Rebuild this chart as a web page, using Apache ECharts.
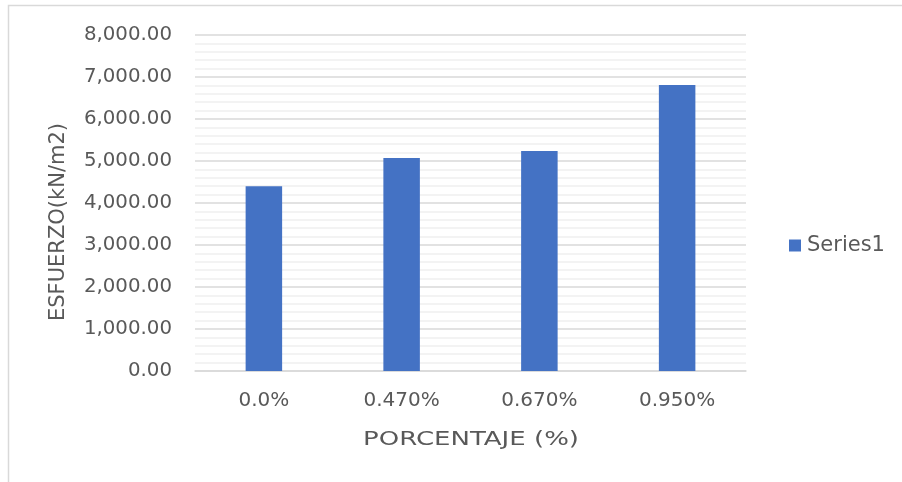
<!DOCTYPE html>
<html>
<head>
<meta charset="utf-8">
<script src="https://cdn.jsdelivr.net/npm/echarts@6/dist/echarts.min.js"></script>
<style>
  html, body { margin: 0; padding: 0; background: #fff; }
  #chart { width: 902px; height: 482px; }
</style>
</head>
<body>
<div id="chart"></div>
<script>
// Compressive stress by additive percentage
const categories = ['0.0%', '0.470%', '0.670%', '0.950%'];
const esfuerzo = [4400, 5070, 5240, 6810];
const seriesName = 'Series1';
const yTitle = 'ESFUERZO(kN/m2)';
const xTitle = 'PORCENTAJE (%)';

const FONT = "'DejaVu Sans', 'Noto Sans', sans-serif";
const TEXT = '#595959';

const chart = echarts.init(document.getElementById('chart'), null, { renderer: 'canvas' });
chart.setOption({
  animation: false,
  backgroundColor: '#ffffff',
  textStyle: { fontFamily: FONT },
  graphic: [
    {
      // chart-area frame (left and top edges visible)
      type: 'rect',
      shape: { x: 8.5, y: 5.5, width: 1000, height: 1000 },
      style: { fill: 'none', stroke: '#d9d9d9', lineWidth: 1.5 },
      silent: true
    },
    {
      type: 'text',
      x: 59, y: 222,
      rotation: Math.PI / 2,
      style: {
        text: yTitle, fill: TEXT, font: "21px 'DejaVu Sans', sans-serif",
        align: 'center', verticalAlign: 'middle'
      },
      silent: true
    },
    {
      type: 'text',
      x: 471, y: 440,
      scaleX: 1.3,
      style: {
        text: xTitle, fill: TEXT, font: "20px 'DejaVu Sans', sans-serif",
        align: 'center', verticalAlign: 'middle'
      },
      silent: true
    }
  ],
  grid: { left: 195, right: 156, top: 35, bottom: 111, containLabel: false },
  legend: {
    data: [seriesName],
    left: 789,
    top: 235,
    itemWidth: 12,
    itemHeight: 12,
    itemGap: 4,
    icon: 'rect',
    padding: 0,
    textStyle: { color: TEXT, fontSize: 21, fontFamily: FONT, padding: [0, 0, 0, 1] }
  },
  xAxis: {
    type: 'category',
    data: categories,
    axisLine: { show: true, lineStyle: { color: '#d9d9d9', width: 1.5 } },
    axisTick: { show: false },
    axisLabel: { color: TEXT, fontSize: 20, margin: 20, fontFamily: FONT }
  },
  yAxis: {
    type: 'value',
    min: 0,
    max: 8000,
    interval: 1000,
    axisLine: { show: false },
    axisTick: { show: false },
    axisLabel: {
      color: TEXT, fontSize: 19.8, margin: 23, fontFamily: FONT,
      formatter: v => v.toLocaleString('en-US', { minimumFractionDigits: 2, maximumFractionDigits: 2 })
    },
    splitLine: { show: true, lineStyle: { color: '#d9d9d9', width: 1.5 } },
    minorTick: { show: false, splitNumber: 5 },
    minorSplitLine: { show: true, lineStyle: { color: '#f0f0f0', width: 1.5 } }
  },
  series: [{
    name: seriesName,
    type: 'bar',
    data: esfuerzo,
    barWidth: '26.5%',
    itemStyle: { color: '#4472c4' }
  }]
});
</script>
</body>
</html>
